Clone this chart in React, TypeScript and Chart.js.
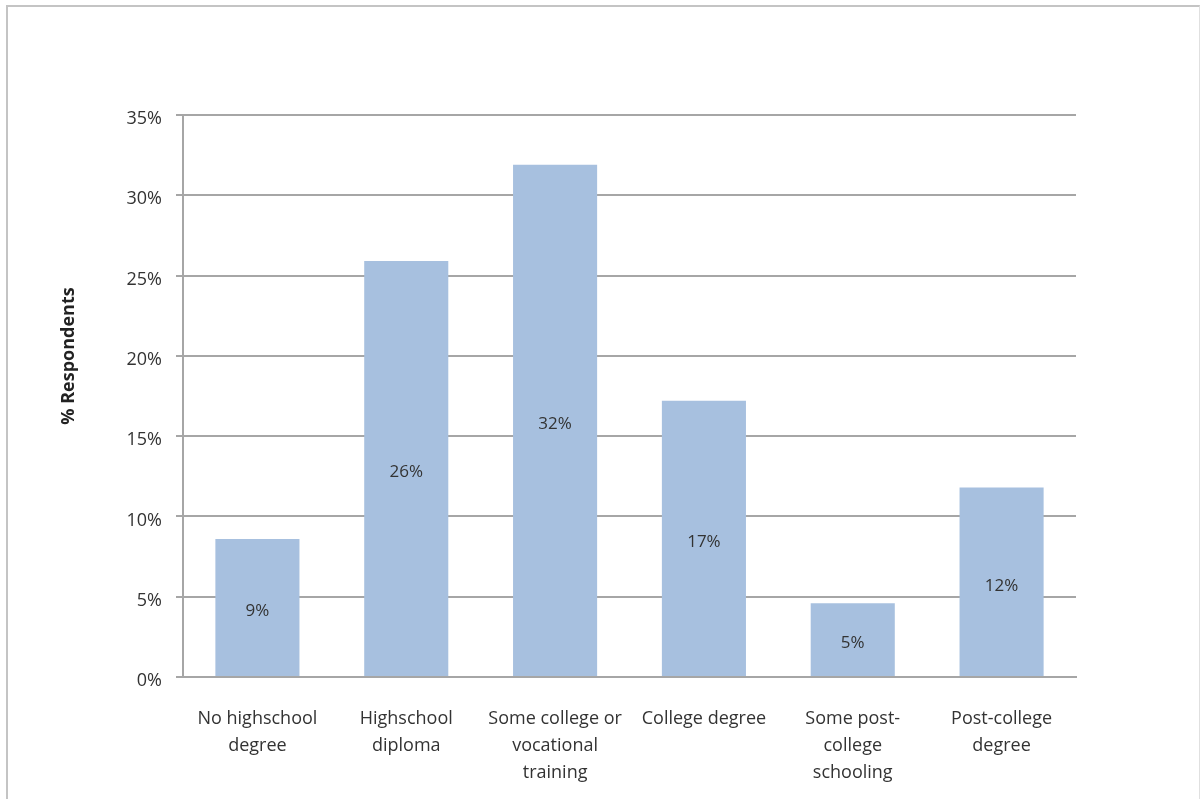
import React, { useEffect, useRef } from "react";
import { Chart, registerables } from "chart.js";

Chart.register(...registerables);

const categories: (string | string[])[] = [
  ["No highschool", "degree"],
  ["Highschool", "diploma"],
  ["Some college or", "vocational", "training"],
  "College degree",
  ["Some post-", "college", "schooling"],
  ["Post-college", "degree"],
];
const respondents = [8.6, 25.9, 31.9, 17.2, 4.6, 11.8];
const yTicks = [0, 5, 10, 15, 20, 25, 30, 35];
const yTitle = "% Respondents";

const FONT = "'Open Sans', sans-serif";
const TEXT = "#333333";

const barLabels = {
  id: "barLabels",
  afterDatasetsDraw(chart: any) {
    const ctx = chart.ctx;
    const meta = chart.getDatasetMeta(0);
    ctx.save();
    ctx.font = `17px ${FONT}`;
    ctx.fillStyle = TEXT;
    ctx.textAlign = "center";
    ctx.textBaseline = "middle";
    meta.data.forEach((bar: any, i: number) => {
      const v = respondents[i];
      const y = (bar.y + bar.base) / 2 + 4;
      ctx.fillText(Math.round(v) + "%", bar.x, y);
    });
    ctx.restore();
  },
};

const axisTitle = {
  id: "axisTitle",
  afterDraw(chart: any) {
    const ctx = chart.ctx;
    ctx.save();
    ctx.translate(69, 356);
    ctx.rotate(-Math.PI / 2);
    ctx.font = `bold 18px ${FONT}`;
    ctx.fillStyle = "#222";
    ctx.textAlign = "center";
    ctx.textBaseline = "middle";
    ctx.fillText(yTitle, 0, 0);
    ctx.restore();
  },
};

export default function App() {
  const ref = useRef<HTMLCanvasElement>(null);
  useEffect(() => {
    if (!ref.current) return;
    const chart = new Chart(ref.current, {
      type: "bar",
      data: {
        labels: categories,
        datasets: [
          {
            data: respondents,
            backgroundColor: "#a7c0df",
            borderWidth: 0,
            barPercentage: 1,
            categoryPercentage: 0.565,
          },
        ],
      },
      options: {
        animation: false,
        responsive: false,
        maintainAspectRatio: false,
        layout: { padding: { left: 0, top: 115, right: 125, bottom: 0 } },
        plugins: {
          legend: { display: false },
          tooltip: { enabled: false },
          title: { display: false },
        },
        scales: {
          x: {
            grid: { display: false, drawTicks: false },
            border: { display: true, color: "#a6a6a6", width: 2 },
            ticks: {
              color: TEXT,
              font: { family: FONT, size: 18, lineHeight: 1.5 },
              padding: 28,
              maxRotation: 0,
              autoSkip: false,
            },
            afterFit: (s: any) => {
              s.height = 799 - 677;
            },
          },
          y: {
            min: 0,
            max: 35,
            afterBuildTicks: (s: any) => {
              s.ticks = yTicks.map((v) => ({ value: v }));
            },
            grid: {
              color: "#a6a6a6",
              lineWidth: 2,
              tickLength: 7,
              drawTicks: true,
            },
            border: { display: true, color: "#a6a6a6", width: 2 },
            ticks: {
              color: TEXT,
              font: { family: FONT, size: 18 },
              padding: 14,
              labelOffset: 4,
              callback: (v: any) => v + "%",
            },
            title: { display: false },
            afterFit: (s: any) => {
              s.width = 183;
            },
          },
        },
      },
      plugins: [barLabels, axisTitle],
    });
    return () => chart.destroy();
  }, []);

  return (
    <div style={{ position: "fixed", left: 0, top: 0, width: 1201, height: 799, background: "#fff" }}>
      <canvas ref={ref} width={1201} height={799} style={{ position: "absolute", left: 0, top: 0 }} />
      <div
        style={{
          position: "absolute",
          left: 6,
          top: 5,
          width: 1191,
          height: 800,
          borderLeft: "2px solid #c4c4c4",
          borderTop: "2px solid #c4c4c4",
          borderRight: "1px solid #e0e0e0",
          pointerEvents: "none",
        }}
      />
    </div>
  );
}
